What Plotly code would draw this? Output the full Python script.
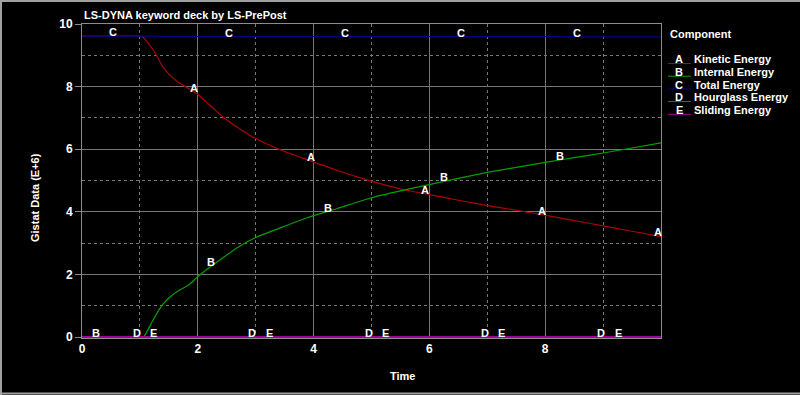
import numpy as np
import plotly.graph_objects as go

# ---------------- data ----------------
time = [0.0, 1.0, 1.06, 1.2, 1.3, 1.4, 1.5, 1.66, 1.84, 2.0, 2.2, 2.44, 2.7, 3.0,
        3.4, 3.9, 4.4, 5.0, 5.5, 6.0, 6.5, 7.0, 7.5, 8.0, 8.5, 9.0, 9.5, 10.0]
kinetic = [9.61, 9.61, 9.56, 9.25, 8.96, 8.62, 8.40, 8.14, 7.94, 7.75, 7.42, 7.02, 6.68, 6.34,
           6.00, 5.66, 5.33, 4.98, 4.73, 4.55, 4.37, 4.20, 4.05, 3.89, 3.72, 3.55, 3.38, 3.21]
internal = [0.0, 0.0, 0.0, 0.45, 0.78, 1.05, 1.25, 1.47, 1.66, 1.93, 2.22, 2.54, 2.88, 3.18,
            3.47, 3.82, 4.10, 4.45, 4.67, 4.87, 5.07, 5.26, 5.42, 5.58, 5.73, 5.88, 6.04, 6.20]
total = [9.61, 9.61, 9.61, 9.61, 9.61, 9.60, 9.60, 9.60, 9.60, 9.60, 9.60, 9.60, 9.60, 9.60,
         9.60, 9.60, 9.60, 9.60, 9.60, 9.60, 9.60, 9.60, 9.60, 9.60, 9.59, 9.59, 9.59, 9.59]
hourglass = [0.0] * len(time)
sliding = [0.0] * len(time)

letters = ["A", "B", "C", "D", "E"]
names = ["Kinetic Energy", "Internal Energy", "Total Energy", "Hourglass Energy", "Sliding Energy"]
series = [kinetic, internal, total, hourglass, sliding]
colors = ["#b00000", "#00a000", "#000090", "#008080", "#a000a0"]
widths = [1.2, 1.2, 1.2, 2, 2]

label_times = {
    "A": [1.94, 3.95, 5.93, 7.94, 9.95],
    "B": [0.24, 2.23, 4.24, 6.25, 8.25],
    "C": [0.54, 2.54, 4.54, 6.55, 8.55],
    "D": [0.95, 2.94, 4.95, 6.96, 8.96],
    "E": [1.23, 3.24, 5.24, 7.25, 9.26],
}

x_ticks = [0, 2, 4, 6, 8]
y_ticks = [0, 2, 4, 6, 8, 10]

title_text = "LS-DYNA keyword deck by LS-PrePost"
x_title = "Time"
y_title = "Gistat Data (E+6)"
legend_title = "Component"

# ---------------- layout helpers ----------------
W, H = 800, 395
L, R, T, B = 82, 661, 24, 338


def px(xp):
    return (xp - L) / (R - L)


def py(yp):
    return (B - yp) / (B - T)


FONT = "Liberation Sans, Arial, sans-serif"
FS = 11
GRID = "#767676"


def bold(size=FS):
    return dict(family=FONT, size=size, color="white", weight="bold")


fig = go.Figure()
for vals, col, nm, w in zip(series, colors, names, widths):
    fig.add_trace(go.Scatter(x=time, y=vals, mode="lines", name=nm,
                             line=dict(color=col, width=w, shape="spline", smoothing=0.6),
                             showlegend=False, hoverinfo="skip"))

annotations = []
# curve letter labels
for letter, vals in zip(letters, series):
    ts = label_times[letter]
    ys = np.interp(ts, time, vals)
    for t, v in zip(ts, ys):
        annotations.append(dict(x=t, y=float(v), xref="x", yref="y", text=letter,
                                showarrow=False, yshift=4, font=bold()))

# title
annotations.append(dict(x=0, y=py(14.5), xref="paper", yref="paper", text=title_text,
                        xanchor="left", yanchor="middle", showarrow=False, font=bold()))
# axis titles
annotations.append(dict(x=px(402), y=py(375.5), xref="paper", yref="paper", text=x_title,
                        xanchor="center", yanchor="middle", showarrow=False, font=bold()))
annotations.append(dict(x=px(35), y=py(197), xref="paper", yref="paper", text=y_title,
                        xanchor="center", yanchor="middle", showarrow=False, textangle=-90,
                        font=bold()))
# legend
annotations.append(dict(x=px(668), y=py(34), xref="paper", yref="paper", text=legend_title,
                        xanchor="left", yanchor="middle", showarrow=False, font=bold()))
shapes = []
for i, (letter, nm, col) in enumerate(zip(letters, names, colors)):
    yc = 59.3 + 12.7 * i
    annotations.append(dict(x=px(679), y=py(yc), xref="paper", yref="paper", text=letter,
                            xanchor="center", yanchor="middle", showarrow=False, font=bold()))
    annotations.append(dict(x=px(692), y=py(yc), xref="paper", yref="paper", text=nm,
                            xanchor="left", yanchor="middle", showarrow=False, font=bold()))
    shapes.append(dict(type="line", xref="paper", yref="paper",
                       x0=px(668), x1=px(691), y0=py(yc + 4.2), y1=py(yc + 4.2),
                       line=dict(color=col, width=1)))

# outer window frame
frame_col = "#a0a0a0"
shapes.append(dict(type="line", xref="paper", yref="paper", x0=px(0), x1=px(800),
                   y0=py(1), y1=py(1), line=dict(color=frame_col, width=2)))
shapes.append(dict(type="line", xref="paper", yref="paper", x0=px(0), x1=px(800),
                   y0=py(393.5), y1=py(393.5), line=dict(color=frame_col, width=2)))
shapes.append(dict(type="line", xref="paper", yref="paper", x0=px(1), x1=px(1),
                   y0=py(0), y1=py(395), line=dict(color=frame_col, width=2)))

tickfont = bold(12)

fig.update_layout(
    width=W, height=H,
    margin=dict(l=L, r=W - R, t=T, b=H - B),
    paper_bgcolor="black", plot_bgcolor="black",
    annotations=annotations, shapes=shapes,
    showlegend=False,
    xaxis=dict(range=[0, 10], tickvals=x_ticks, ticktext=[str(v) for v in x_ticks],
               showgrid=True, gridcolor=GRID, gridwidth=1,
               minor=dict(dtick=1, showgrid=True, gridcolor=GRID, griddash="dot"),
               showline=True, linecolor="#8c8c8c", linewidth=1, mirror=True,
               ticks="inside", ticklen=5, tickcolor="#8c8c8c", layer="below traces",
               tickfont=tickfont, zeroline=False, fixedrange=True),
    yaxis=dict(range=[-0.03, 10], tickvals=y_ticks, ticktext=[str(v) for v in y_ticks],
               showgrid=True, gridcolor=GRID, gridwidth=1,
               minor=dict(dtick=1, showgrid=True, gridcolor=GRID, griddash="dot"),
               showline=True, linecolor="#8c8c8c", linewidth=1, mirror=True,
               ticks="outside", ticklen=6, tickcolor="#8c8c8c", layer="below traces",
               tickfont=tickfont, zeroline=False, fixedrange=True),
)

fig.write_html("out.html", config={"displayModeBar": False},
               post_script="document.body.style.margin='0';document.body.style.overflow='hidden';")
